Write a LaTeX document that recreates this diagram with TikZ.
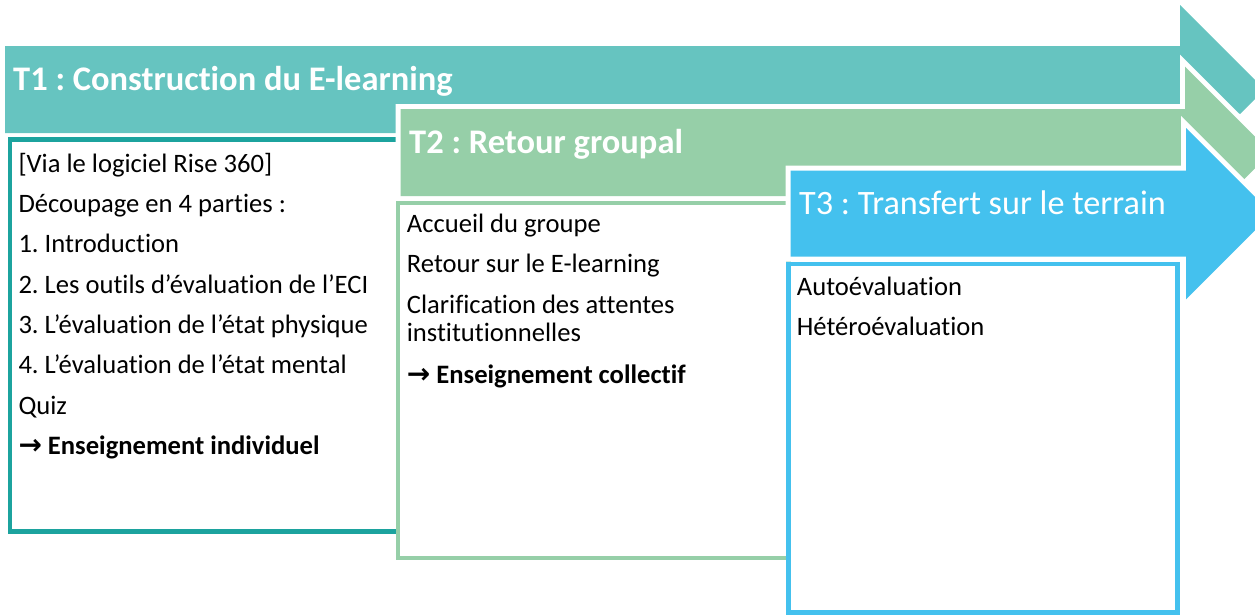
\documentclass[tikz,border=0pt]{standalone}
\usepackage{fontspec}
\setmainfont{Carlito}[Ligatures=CommonOff]
\newfontfamily\arrowfont{DejaVu Sans}
\usetikzlibrary{positioning}
\frenchspacing

\definecolor{tealband}{HTML}{66C4C0}
\definecolor{tealline}{HTML}{1CA39E}
\definecolor{greenband}{HTML}{96CFA8}
\definecolor{blueband}{HTML}{44C1EE}

\newcommand{\goto}{{\arrowfont\bfseries\fontsize{28}{30}\selectfont →}}

\begin{document}
\begin{tikzpicture}[x=1pt, y=-1pt,
    titlenode/.style={text=white, inner sep=0pt, anchor=base west, font=\fontsize{34.5}{40}\selectfont\bfseries},
    linenode/.style={inner sep=0pt, anchor=base west, font=\fontsize{26.6}{30}\selectfont},
    boxframe/.style={draw=#1, fill=white, line width=4.5pt},
    bandarrow/.style={fill=#1, preaction={draw=white, line width=10pt, line join=miter}}]

        \useasboundingbox (0,0) rectangle (1255,614);
        \clip (0,0) rectangle (1255,614);

        % T1
        \fill[tealband] (5,46) -- (1180,46) -- (1180,5) -- (1264.5,89.5) -- (1180,174) -- (1180,133) -- (5,133) -- cycle;
        \draw[boxframe=tealline] (9.8,139.5) rectangle (398,531.5);
        \node[titlenode] (t1title) at (13,90) {T1 : Construction du E-learning};
        \node[linenode] (t1a) at (18.3,172.3) {[Via le logiciel Rise 360]};
        \node[linenode] (t1b) [below=40.3pt of t1a.base west, anchor=base west] {Découpage en 4 parties :};
        \node[linenode] (t1c) [below=40.3pt of t1b.base west, anchor=base west] {1. Introduction};
        \node[linenode] (t1d) [below=40.3pt of t1c.base west, anchor=base west] {2. Les outils d’évaluation de l’ECI};
        \node[linenode] (t1e) [below=40.3pt of t1d.base west, anchor=base west] {3. L’évaluation de l’état physique};
        \node[linenode] (t1f) [below=40.3pt of t1e.base west, anchor=base west] {4. L’évaluation de l’état mental};
        \node[linenode] (t1g) [below=40.3pt of t1f.base west, anchor=base west] {Quiz};
        \node[linenode] (t1h) [below=40.3pt of t1g.base west, anchor=base west] {\goto\ \textbf{Enseignement individuel}};

        % T2
        \fill[bandarrow=greenband] (400.7,109) -- (1185,109) -- (1185,66.7) -- (1271,152.5) -- (1185,238.3) -- (1185,196) -- (400.7,196) -- cycle;
        \draw[boxframe=greenband] (398,203) rectangle (788.5,558);
        \node[titlenode] (t2title) at (409,153) {T2 : Retour groupal};
        \node[linenode] (t2a) at (406.7,232.3) {Accueil du groupe};
        \node[linenode] (t2b) [below=40.4pt of t2a.base west, anchor=base west] {Retour sur le E-learning};
        \node[linenode] (t2c) [below=40.4pt of t2b.base west, anchor=base west] {Clarification des attentes};
        \node[linenode] (t2d) [below=28.4pt of t2c.base west, anchor=base west] {institutionnelles};
        \node[linenode] (t2e) [below=41.6pt of t2d.base west, anchor=base west] {\goto\ \textbf{Enseignement collectif}};

        % T3
        \fill[bandarrow=blueband] (790.7,170.7) -- (1186,170.7) -- (1186,128) -- (1271.7,213.7) -- (1186,299.4) -- (1186,256.7) -- (790.7,256.7) -- cycle;
        \draw[boxframe=blueband] (788.5,264) rectangle (1177.5,612.5);
        \node[titlenode, font=\fontsize{34.2}{40}\selectfont] (t3title) at (799,214) {T3 : Transfert sur le terrain};
        \node[linenode] (t3a) at (796.7,295) {Autoévaluation};
        \node[linenode] (t3b) [below=40pt of t3a.base west, anchor=base west] {Hétéroévaluation};

\end{tikzpicture}
\end{document}
